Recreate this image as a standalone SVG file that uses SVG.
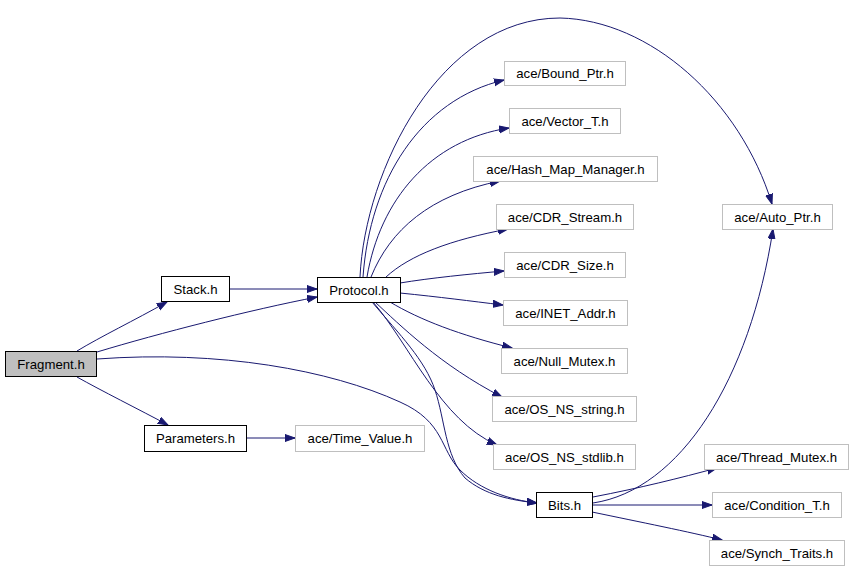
<svg xmlns="http://www.w3.org/2000/svg" width="853" height="569" viewBox="0 0 853 569">
<defs>
<marker id="arr" markerUnits="userSpaceOnUse" markerWidth="12" markerHeight="9" refX="10" refY="4" orient="auto">
<path d="M0,0.5 L10,4 L0,7.5 z" fill="#191970" stroke="#191970" stroke-width="1"/>
</marker>
<style>
.n rect{fill:#fff;stroke:#000;stroke-width:1}
.g rect{fill:#fff;stroke:#bfbfbf;stroke-width:1}
text{font-family:"Liberation Sans",Arial,sans-serif;font-size:13.2px;text-anchor:middle;fill:#000}
.e path{fill:none;stroke:#191970;stroke-width:1;marker-end:url(#arr)}
</style>
</defs>
<rect width="853" height="569" fill="#fff"/>
<g class="e" id="edges">
<path d="M77,351 C100,337 135,320 167,302"/>
<path d="M97,352 C160,333 250,310 317,297"/>
<path d="M97,359 C220,350 330,370 400,402 C445,422 440,450 460,470 C480,490 510,500 537,503"/>
<path d="M77,377 C100,390 140,410 168,425"/>
<path d="M246,438 L295,438"/>
<path d="M229,289 L317,289"/>
<path d="M360,277 C365,170 440,18 560,18 C650,20 740,100 772,204"/>
<path d="M363,277 C370,180 420,100 504,80"/>
<path d="M367,277 C380,200 430,140 509,128"/>
<path d="M371,277 C390,230 430,195 500,181"/>
<path d="M386,277 C410,255 450,240 508,229"/>
<path d="M400,283 C430,278 470,274 504,271"/>
<path d="M400,293 C440,297 470,301 503,305"/>
<path d="M390,302 C420,320 460,335 512,348"/>
<path d="M375,302 C400,325 440,365 502,397"/>
<path d="M373,302 C410,345 440,420 497,445"/>
<path d="M372,302 C400,335 425,360 435,390 C445,420 445,455 465,478 C485,495 510,500 537,503"/>
<path d="M593,503 C680,490 750,380 773,229"/>
<path d="M593,497 C640,488 680,478 717,468"/>
<path d="M592,505 L712,505"/>
<path d="M592,512 C640,522 690,532 722,540"/>
</g>
<g id="Fragment" class="n"><rect x="5.5" y="351.5" width="91" height="25" style="fill:#bfbfbf"/><text x="51" y="368.5">Fragment.h</text></g>
<g id="Stack" class="n"><rect x="161.5" y="276.5" width="68" height="25"/><text x="195.5" y="293.5">Stack.h</text></g>
<g id="Parameters" class="n"><rect x="144.5" y="425.5" width="102" height="26"/><text x="195.5" y="443">Parameters.h</text></g>
<g id="Time_Value" class="g"><rect x="295.5" y="425.5" width="129" height="26"/><text x="360" y="443">ace/Time_Value.h</text></g>
<g id="Protocol" class="n"><rect x="317.5" y="277.5" width="83" height="25"/><text x="359" y="294.5">Protocol.h</text></g>
<g id="Bound_Ptr" class="g"><rect x="504.5" y="61.5" width="121" height="24"/><text x="565" y="78">ace/Bound_Ptr.h</text></g>
<g id="Vector_T" class="g"><rect x="509.5" y="108.5" width="111" height="25"/><text x="565" y="125.5">ace/Vector_T.h</text></g>
<g id="Hash_Map_Manager" class="g"><rect x="473.5" y="156.5" width="184" height="25"/><text x="565.5" y="173.5">ace/Hash_Map_Manager.h</text></g>
<g id="CDR_Stream" class="g"><rect x="496.5" y="204.5" width="137" height="25"/><text x="565" y="221.5">ace/CDR_Stream.h</text></g>
<g id="CDR_Size" class="g"><rect x="504.5" y="252.5" width="121" height="25"/><text x="565" y="269.5">ace/CDR_Size.h</text></g>
<g id="INET_Addr" class="g"><rect x="503.5" y="300.5" width="124" height="25"/><text x="565.5" y="317.5">ace/INET_Addr.h</text></g>
<g id="Null_Mutex" class="g"><rect x="501.5" y="348.5" width="126" height="25"/><text x="564.5" y="365.5">ace/Null_Mutex.h</text></g>
<g id="OS_NS_string" class="g"><rect x="492.5" y="396.5" width="144" height="25"/><text x="564.5" y="413.5">ace/OS_NS_string.h</text></g>
<g id="OS_NS_stdlib" class="g"><rect x="493.5" y="444.5" width="142" height="25"/><text x="564.5" y="461.5">ace/OS_NS_stdlib.h</text></g>
<g id="Bits" class="n"><rect x="536.5" y="492.5" width="56" height="25"/><text x="564.5" y="509.5">Bits.h</text></g>
<g id="Auto_Ptr" class="g"><rect x="722.5" y="204.5" width="110" height="25"/><text x="777.5" y="221.5">ace/Auto_Ptr.h</text></g>
<g id="Thread_Mutex" class="g"><rect x="704.5" y="444.5" width="144" height="25"/><text x="776.5" y="461.5">ace/Thread_Mutex.h</text></g>
<g id="Condition_T" class="g"><rect x="712.5" y="492.5" width="129" height="25"/><text x="777" y="509.5">ace/Condition_T.h</text></g>
<g id="Synch_Traits" class="g"><rect x="709.5" y="540.5" width="135" height="25"/><text x="777" y="557.5">ace/Synch_Traits.h</text></g>
</svg>
